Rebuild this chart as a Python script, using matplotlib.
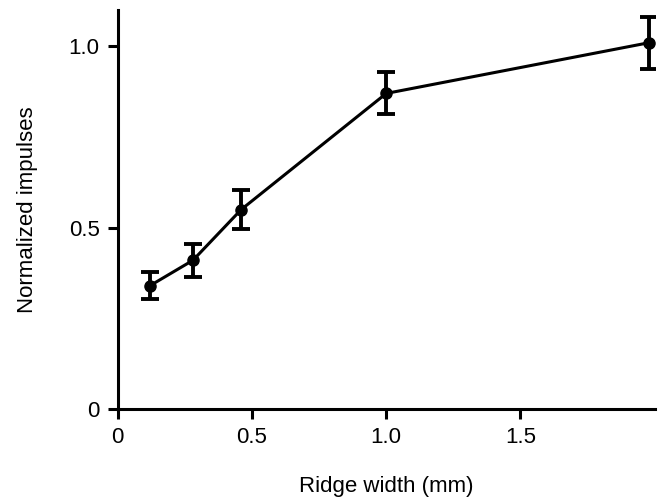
import matplotlib
matplotlib.use("Agg")
import matplotlib.pyplot as plt

plt.rcParams['font.family'] = ['Liberation Sans', 'DejaVu Sans']

ridge_width = [0.12, 0.28, 0.46, 1.0, 1.98]
impulses = [0.34, 0.41, 0.55, 0.87, 1.01]
errors = [0.037, 0.045, 0.055, 0.058, 0.072]
xticks = [0, 0.5, 1.0, 1.5]
xticklabels = ["0", "0.5", "1.0", "1.5"]
yticks = [0, 0.5, 1.0]
yticklabels = ["0", "0.5", "1.0"]

fig = plt.figure(figsize=(6.58, 5.0), dpi=100)
ax = fig.add_axes([0.179, 0.182, 0.816, 0.798])

ax.errorbar(ridge_width, impulses, yerr=errors, color='black', lw=2.2,
            marker='o', ms=8, elinewidth=2.8, capsize=6.5, capthick=2.8)

ax.set_xlim(0, 2.0)
ax.set_ylim(0, 1.10)
ax.set_xticks(xticks)
ax.set_xticklabels(xticklabels)
ax.set_yticks(yticks)
ax.set_yticklabels(yticklabels)
for s in ['top', 'right']:
    ax.spines[s].set_visible(False)
for s in ['left', 'bottom']:
    ax.spines[s].set_linewidth(2.2)
ax.tick_params(direction='out', length=7, width=2.2, labelsize=16, pad=6)
ax.set_xlabel("Ridge width (mm)", fontsize=16, labelpad=20)
ax.set_ylabel("Normalized impulses", fontsize=16, labelpad=22)

fig.savefig("out.png", dpi=100)
